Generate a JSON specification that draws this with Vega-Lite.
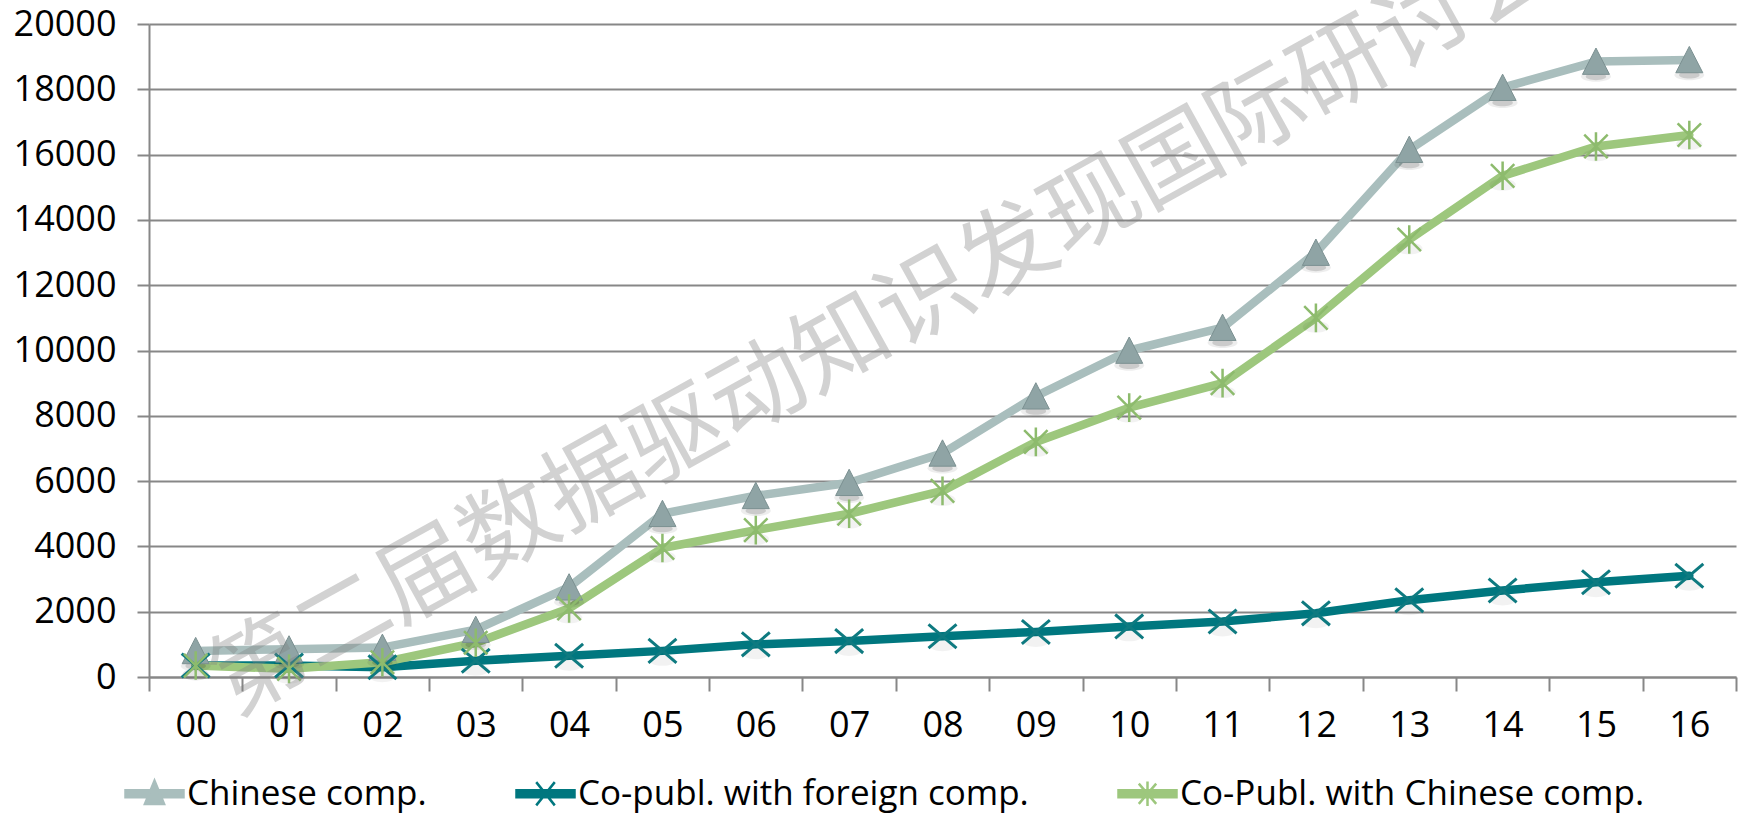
{
  "$schema": "https://vega.github.io/schema/vega-lite/v6.json",
  "width": 1587,
  "height": 653,
  "autosize": {"type": "none"},
  "padding": {"left": 149, "top": 24, "right": 3, "bottom": 140},
  "background": "white",
  "config": {"view": {"stroke": null}, "font": "Open Sans"},
  "datasets": {
    "pubs": [
      {"year": "00", "series": "Chinese comp.", "value": 800},
      {"year": "01", "series": "Chinese comp.", "value": 850},
      {"year": "02", "series": "Chinese comp.", "value": 900},
      {"year": "03", "series": "Chinese comp.", "value": 1450},
      {"year": "04", "series": "Chinese comp.", "value": 2750},
      {"year": "05", "series": "Chinese comp.", "value": 5000},
      {"year": "06", "series": "Chinese comp.", "value": 5550},
      {"year": "07", "series": "Chinese comp.", "value": 5950},
      {"year": "08", "series": "Chinese comp.", "value": 6850},
      {"year": "09", "series": "Chinese comp.", "value": 8600},
      {"year": "10", "series": "Chinese comp.", "value": 10000},
      {"year": "11", "series": "Chinese comp.", "value": 10700},
      {"year": "12", "series": "Chinese comp.", "value": 13000},
      {"year": "13", "series": "Chinese comp.", "value": 16150},
      {"year": "14", "series": "Chinese comp.", "value": 18050},
      {"year": "15", "series": "Chinese comp.", "value": 18850},
      {"year": "16", "series": "Chinese comp.", "value": 18900},
      {"year": "00", "series": "Co-publ. with foreign comp.", "value": 350},
      {"year": "01", "series": "Co-publ. with foreign comp.", "value": 350},
      {"year": "02", "series": "Co-publ. with foreign comp.", "value": 300},
      {"year": "03", "series": "Co-publ. with foreign comp.", "value": 500},
      {"year": "04", "series": "Co-publ. with foreign comp.", "value": 650},
      {"year": "05", "series": "Co-publ. with foreign comp.", "value": 800},
      {"year": "06", "series": "Co-publ. with foreign comp.", "value": 1000},
      {"year": "07", "series": "Co-publ. with foreign comp.", "value": 1100},
      {"year": "08", "series": "Co-publ. with foreign comp.", "value": 1250},
      {"year": "09", "series": "Co-publ. with foreign comp.", "value": 1380},
      {"year": "10", "series": "Co-publ. with foreign comp.", "value": 1550},
      {"year": "11", "series": "Co-publ. with foreign comp.", "value": 1700},
      {"year": "12", "series": "Co-publ. with foreign comp.", "value": 1950},
      {"year": "13", "series": "Co-publ. with foreign comp.", "value": 2350},
      {"year": "14", "series": "Co-publ. with foreign comp.", "value": 2650},
      {"year": "15", "series": "Co-publ. with foreign comp.", "value": 2900},
      {"year": "16", "series": "Co-publ. with foreign comp.", "value": 3100},
      {"year": "00", "series": "Co-Publ. with Chinese comp.", "value": 350},
      {"year": "01", "series": "Co-Publ. with Chinese comp.", "value": 250},
      {"year": "02", "series": "Co-Publ. with Chinese comp.", "value": 450},
      {"year": "03", "series": "Co-Publ. with Chinese comp.", "value": 1050},
      {"year": "04", "series": "Co-Publ. with Chinese comp.", "value": 2100},
      {"year": "05", "series": "Co-Publ. with Chinese comp.", "value": 3950},
      {"year": "06", "series": "Co-Publ. with Chinese comp.", "value": 4500},
      {"year": "07", "series": "Co-Publ. with Chinese comp.", "value": 5000},
      {"year": "08", "series": "Co-Publ. with Chinese comp.", "value": 5700},
      {"year": "09", "series": "Co-Publ. with Chinese comp.", "value": 7200},
      {"year": "10", "series": "Co-Publ. with Chinese comp.", "value": 8250},
      {"year": "11", "series": "Co-Publ. with Chinese comp.", "value": 9000},
      {"year": "12", "series": "Co-Publ. with Chinese comp.", "value": 11000},
      {"year": "13", "series": "Co-Publ. with Chinese comp.", "value": 13400},
      {"year": "14", "series": "Co-Publ. with Chinese comp.", "value": 15350},
      {"year": "15", "series": "Co-Publ. with Chinese comp.", "value": 16250},
      {"year": "16", "series": "Co-Publ. with Chinese comp.", "value": 16600}
    ],
    "watermark": [
      {"caption": "第二届数据驱动知识发现国际研讨会"}
    ]
  },
  "layer": [
    {
      "data": {"name": "pubs"},
      "mark": {"type": "line", "strokeWidth": 8.5, "strokeJoin": "round", "strokeCap": "round"},
      "encoding": {
        "x": {
          "field": "year", "type": "ordinal", "sort": null,
          "scale": {"type": "band", "paddingInner": 0, "paddingOuter": 0},
          "axis": {
            "title": null, "labelAngle": 0, "tickBand": "extent", "grid": false,
            "domainColor": "#878787", "domainWidth": 2,
            "tickColor": "#878787", "tickWidth": 2, "tickSize": 14,
            "labelFontSize": 36, "labelPadding": 17, "labelColor": "#000"
          }
        },
        "y": {
          "field": "value", "type": "quantitative",
          "scale": {"domain": [0, 20000], "nice": false},
          "axis": {
            "title": null, "format": "d",
            "values": [0, 2000, 4000, 6000, 8000, 10000, 12000, 14000, 16000, 18000, 20000],
            "grid": true, "gridColor": "#878787", "gridWidth": 2,
            "domainColor": "#878787", "domainWidth": 2,
            "tickColor": "#878787", "tickWidth": 2, "tickSize": 12,
            "labelFontSize": 36, "labelPadding": 21, "labelColor": "#000"
          }
        },
        "color": {
          "field": "series", "type": "nominal", "sort": null,
          "scale": {
            "domain": ["Chinese comp.", "Co-publ. with foreign comp.", "Co-Publ. with Chinese comp."],
            "range": ["#A9BEBD", "#00777F", "#9DC77D"]
          },
          "legend": {
            "title": null, "orient": "none", "direction": "horizontal", "columns": 3,
            "legendX": -25, "legendY": 739, "padding": 0,
            "labelFontSize": 35, "labelColor": "#000", "labelOffset": 2, "labelLimit": 0,
            "symbolSize": 3364, "columnPadding": 84,
            "encode": {
              "symbols": {
                "update": {
                  "shape": {"signal": "datum.value === 'Chinese comp.' ? 'M-1,-0.12H1V0.12H-1Z M0,-0.45L0.33,0.35H-0.33Z' : datum.value === 'Co-publ. with foreign comp.' ? 'M-1,-0.12H1V0.12H-1Z M-0.32,-0.4L0.32,0.4 M0.32,-0.4L-0.32,0.4' : 'M-1,-0.12H1V0.12H-1Z M-0.3,-0.35L0.3,0.35 M0.3,-0.35L-0.3,0.35 M0,-0.42V0.42'"},
                  "fill": {"scale": "color", "field": "value"},
                  "stroke": {"scale": "color", "field": "value"},
                  "strokeWidth": {"value": 2.5},
                  "opacity": {"value": 1}
                }
              }
            }
          }
        }
      }
    },
    {
      "data": {"name": "pubs"},
      "transform": [{"filter": "datum.series === 'Chinese comp.'"}],
      "mark": {"type": "point", "shape": "M-1,0A1,0.35,0,1,0,1,0A1,0.35,0,1,0,-1,0Z", "filled": true, "size": 900, "color": "#000", "opacity": 0.07, "yOffset": 15},
      "encoding": {
        "x": {"field": "year", "type": "ordinal", "sort": null},
        "y": {"field": "value", "type": "quantitative"}
      }
    },
    {
      "data": {"name": "pubs"},
      "transform": [{"filter": "datum.series === 'Chinese comp.'"}],
      "mark": {"type": "point", "shape": "M-1,0A1,0.35,0,1,0,1,0A1,0.35,0,1,0,-1,0Z", "filled": true, "size": 420, "color": "#000", "opacity": 0.14, "yOffset": 15},
      "encoding": {
        "x": {"field": "year", "type": "ordinal", "sort": null},
        "y": {"field": "value", "type": "quantitative"}
      }
    },
    {
      "data": {"name": "pubs"},
      "transform": [{"filter": "datum.series !== 'Chinese comp.'"}],
      "mark": {"type": "point", "shape": "M-1,0A1,0.45,0,1,0,1,0A1,0.45,0,1,0,-1,0Z", "filled": true, "size": 700, "color": "#000", "opacity": 0.05, "yOffset": 9},
      "encoding": {
        "x": {"field": "year", "type": "ordinal", "sort": null},
        "y": {"field": "value", "type": "quantitative"}
      }
    },
    {
      "data": {"name": "pubs"},
      "transform": [{"filter": "datum.series === 'Chinese comp.'"}],
      "mark": {"type": "point", "shape": "M0,-1L1,0.95L-1,0.95Z", "filled": true, "size": 729, "color": "#8FA4A5", "stroke": "#7B9091", "strokeWidth": 1, "opacity": 1},
      "encoding": {
        "x": {"field": "year", "type": "ordinal", "sort": null},
        "y": {"field": "value", "type": "quantitative"}
      }
    },
    {
      "data": {"name": "pubs"},
      "transform": [{"filter": "datum.series === 'Co-publ. with foreign comp.'"}],
      "mark": {"type": "point", "shape": "M-1,-0.85L1,0.85M1,-0.85L-1,0.85", "filled": false, "size": 784, "stroke": "#0E7A80", "strokeWidth": 3, "opacity": 1},
      "encoding": {
        "x": {"field": "year", "type": "ordinal", "sort": null},
        "y": {"field": "value", "type": "quantitative"}
      }
    },
    {
      "data": {"name": "pubs"},
      "transform": [{"filter": "datum.series === 'Co-Publ. with Chinese comp.'"}],
      "mark": {"type": "point", "shape": "M-0.9,-0.9L0.9,0.9M0.9,-0.9L-0.9,0.9M0,-1.1V1.1", "filled": false, "size": 676, "stroke": "#8DBB6D", "strokeWidth": 2.5, "opacity": 1},
      "encoding": {
        "x": {"field": "year", "type": "ordinal", "sort": null},
        "y": {"field": "value", "type": "quantitative"}
      }
    },
    {
      "data": {"name": "watermark"},
      "mark": {"type": "text", "font": "Noto Sans CJK SC", "fontSize": 95, "angle": -29, "align": "center", "baseline": "middle", "fill": "#808080", "opacity": 0.35, "dx": 40},
      "encoding": {
        "x": {"datum": "07", "type": "ordinal"},
        "y": {"datum": 10250, "type": "quantitative"},
        "text": {"field": "caption"}
      }
    }
  ]
}
